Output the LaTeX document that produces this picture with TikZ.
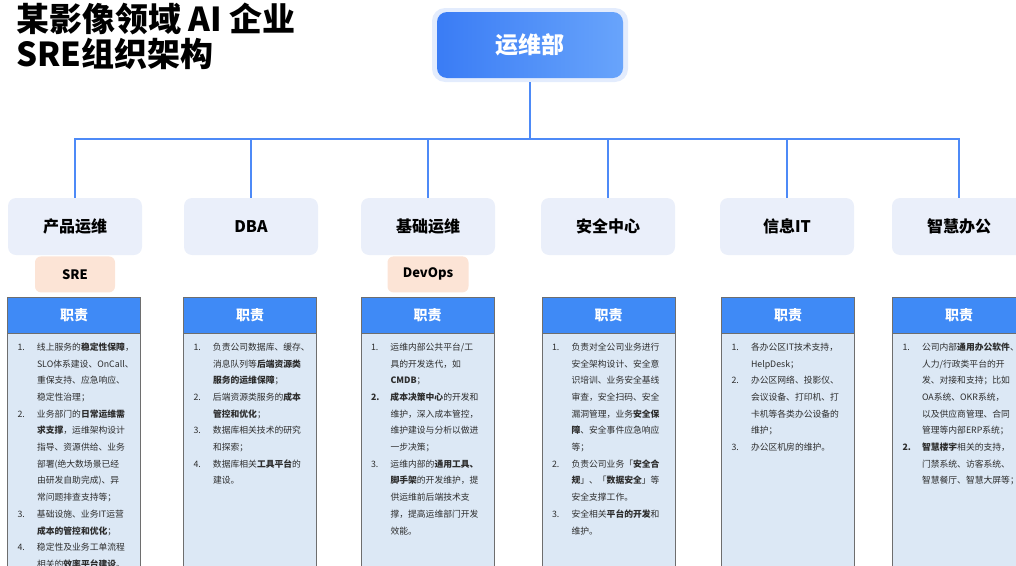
\documentclass[tikz,border=0pt]{standalone}
\usepackage{fontspec}
\setmainfont{Noto Sans CJK SC}
\usetikzlibrary{positioning}
\definecolor{lineblue}{RGB}{77,138,247}
\definecolor{haloblue}{RGB}{227,236,253}
\definecolor{topA}{RGB}{58,124,245}
\definecolor{topB}{RGB}{104,164,251}
\definecolor{deptfill}{RGB}{234,239,250}
\definecolor{tagfill}{RGB}{252,228,214}
\definecolor{headblue}{RGB}{63,138,246}
\definecolor{bodyblue}{RGB}{220,232,245}
\definecolor{panelgray}{RGB}{110,110,110}
\definecolor{textgray}{RGB}{45,45,45}
\tikzset{
 link/.style={draw=lineblue, line width=1.5pt},
 tophalo/.style={fill=haloblue, rounded corners=13pt, minimum width=196pt, minimum height=74pt},
 topbox/.style={left color=topA, right color=topB, rounded corners=10pt, minimum width=186pt, minimum height=66pt,
   text=white, font=\fontsize{23}{26}\selectfont\bfseries},
 dept/.style={fill=deptfill, rounded corners=8pt, minimum width=134pt, minimum height=57pt,
   font=\fontsize{16}{18}\selectfont\bfseries},
 tag/.style={fill=tagfill, rounded corners=6pt, minimum width=80pt, minimum height=36pt,
   font=\fontsize{13}{15}\selectfont\bfseries},
 dutyhead/.style={fill=headblue, draw=panelgray, minimum width=133pt, minimum height=36pt,
   text=white, font=\fontsize{14}{16}\selectfont\bfseries},
 dutybody/.style={fill=bodyblue, draw=panelgray},
 dutytext/.style={anchor=north west, inner sep=0pt, text=textgray, font=\fontsize{8.8}{16.7}\selectfont},
}

\begin{document}
\begin{tikzpicture}[x=1pt,y=-1pt]
    \useasboundingbox (0,0) rectangle (1016,565);
    % title
    \node[anchor=north west, inner sep=0pt, align=left, font=\fontsize{33}{35}\selectfont\bfseries]
        (title) at (16,3) {某影像领域 AI 企业\\SRE组织架构};

    % head of the tree
    \node[tophalo] (halo) at (530,45) {};
    \node[topbox] (top) at (530,45) {运维部};

    % departments
    \node[dept] (d1) at (75,226.5) {产品运维};
    \node[dept] (d2) at (251,226.5) {DBA};
    \node[dept] (d3) at (428,226.5) {基础运维};
    \node[dept] (d4) at (608,226.5) {安全中心};
    \node[dept] (d5) at (787,226.5) {信息IT};
    \node[dept] (d6) at (959,226.5) {智慧办公};

    \coordinate (bus) at (530,139);
    \draw[link] (halo.south) -- (bus);
    \foreach \d in {d1,d2,d3,d4,d5,d6}
        \draw[link] (\d.north) |- (bus);

    \node[tag, below=1pt of d1] (sre) {SRE};
    \node[tag, below=1pt of d3, minimum width=81pt] (devops) {DevOps};

    % duty panels
    \node[dutyhead] (h1) at (74,315) {职责};
    \node[dutyhead] (h2) at (250,315) {职责};
    \node[dutyhead] (h3) at (427.5,315) {职责};
    \node[dutyhead] (h4) at (608.5,315) {职责};
    \node[dutyhead] (h5) at (788,315) {职责};
    \node[dutyhead] (h6) at (959,315) {职责};
    \foreach \h in {h1,h2,h3,h4,h5,h6}
        \draw[dutybody] (\h.south west) rectangle ++(133,260);

    \node[dutytext, below right=5.3pt and 10pt of h1.south west] (t1) {%
    \begin{tabular}{@{}p{19.5pt}@{}l@{}}
    1. & 线上服务的\textbf{稳定性保障}，\\
       & SLO体系建设、OnCall、\\
       & 重保支持、应急响应、\\
       & 稳定性治理；\\
    2. & 业务部门的\textbf{日常运维需}\\
       & \textbf{求支撑}，运维架构设计\\
       & 指导、资源供给、业务\\
       & 部署(绝大数场景已经\\
       & 由研发自助完成)、异\\
       & 常问题排查支持等；\\
    3. & 基础设施、业务IT运营\\
       & \textbf{成本的管控和优化}；\\
    4. & 稳定性及业务工单流程\\
       & 相关的\textbf{效率平台建设}。
    \end{tabular}};

    \node[dutytext, below right=5.3pt and 10pt of h2.south west] (t2) {%
    \begin{tabular}{@{}p{19.5pt}@{}l@{}}
    1. & 负责公司数据库、缓存、\\
       & 消息队列等\textbf{后端资源类}\\
       & \textbf{服务的运维保障}；\\
    2. & 后端资源类服务的\textbf{成本}\\
       & \textbf{管控和优化}；\\
    3. & 数据库相关技术的研究\\
       & 和探索；\\
    4. & 数据库相关\textbf{工具平台}的\\
       & 建设。
    \end{tabular}};

    \node[dutytext, below right=5.3pt and 10pt of h3.south west] (t3) {%
    \begin{tabular}{@{}p{19.5pt}@{}l@{}}
    1. & 运维内部公共平台/工\\
       & 具的开发迭代，如\\
       & \textbf{CMDB}；\\
    \textbf{2.} & \textbf{成本决策中心}的开发和\\
       & 维护，深入成本管控，\\
       & 维护建设与分析以做进\\
       & 一步决策；\\
    3. & 运维内部的\textbf{通用工具、}\\
       & \textbf{脚手架}的开发维护，提\\
       & 供运维前后端技术支\\
       & 撑，提高运维部门开发\\
       & 效能。
    \end{tabular}};

    \node[dutytext, below right=5.3pt and 10pt of h4.south west] (t4) {%
    \begin{tabular}{@{}p{19.5pt}@{}l@{}}
    1. & 负责对全公司业务进行\\
       & 安全架构设计、安全意\\
       & 识培训、业务安全基线\\
       & 审查，安全扫码、安全\\
       & 漏洞管理，业务\textbf{安全保}\\
       & \textbf{障}、安全事件应急响应\\
       & 等；\\
    2. & 负责公司业务「\textbf{安全合}\\
       & \textbf{规}」、「\textbf{数据安全}」等\\
       & 安全支撑工作。\\
    3. & 安全相关\textbf{平台的开发}和\\
       & 维护。
    \end{tabular}};

    \node[dutytext, below right=5.3pt and 10pt of h5.south west] (t5) {%
    \begin{tabular}{@{}p{19.5pt}@{}l@{}}
    1. & 各办公区IT技术支持，\\
       & HelpDesk；\\
    2. & 办公区网络、投影仪、\\
       & 会议设备、打印机、打\\
       & 卡机等各类办公设备的\\
       & 维护；\\
    3. & 办公区机房的维护。
    \end{tabular}};

    \node[dutytext, below right=5.3pt and 10pt of h6.south west] (t6) {%
    \begin{tabular}{@{}p{19.5pt}@{}l@{}}
    1. & 公司内部\textbf{通用办公软件}、\\
       & 人力/行政类平台的开\\
       & 发、对接和支持；比如\\
       & OA系统、OKR系统，\\
       & 以及供应商管理、合同\\
       & 管理等内部ERP系统；\\
    \textbf{2.} & \textbf{智慧楼宇}相关的支持，\\
       & 门禁系统、访客系统、\\
       & 智慧餐厅、智慧大屏等；
    \end{tabular}};
\end{tikzpicture}
\end{document}
